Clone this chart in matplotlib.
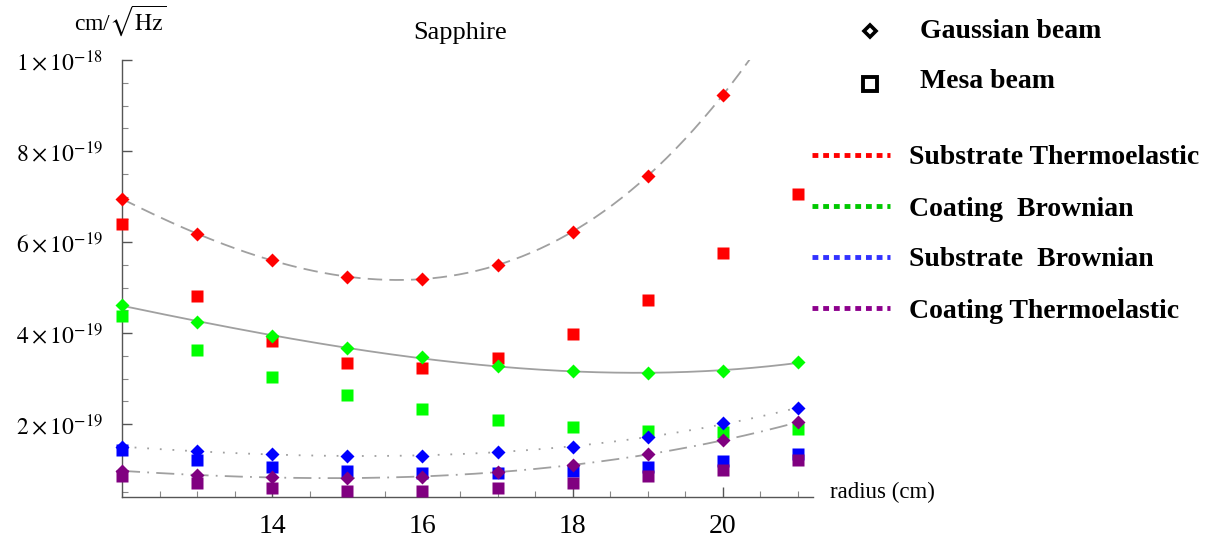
import numpy as np
import matplotlib
matplotlib.use("Agg")
import matplotlib.pyplot as plt
from matplotlib.ticker import MultipleLocator, FixedLocator

plt.rcParams['font.family'] = ['Liberation Serif', 'DejaVu Serif']
plt.rcParams['mathtext.fontset'] = 'stix'

radius = [12, 13, 14, 15, 16, 17, 18, 19, 20, 21]
# values in units of 1e-19 cm/sqrt(Hz)
gauss_sub_te = [6.95, 6.18, 5.60, 5.24, 5.19, 5.49, 6.23, 7.46, 9.23]
mesa_sub_te = [6.40, 4.82, 3.82, 3.35, 3.23, 3.46, 3.98, 4.73, 5.76, 7.05]
gauss_coat_br = [4.62, 4.24, 3.94, 3.68, 3.47, 3.27, 3.16, 3.12, 3.17, 3.36]
mesa_coat_br = [4.38, 3.63, 3.04, 2.64, 2.33, 2.09, 1.94, 1.85, 1.83, 1.89]
gauss_sub_br = [1.50, 1.41, 1.34, 1.30, 1.31, 1.39, 1.50, 1.72, 2.02, 2.35]
mesa_sub_br = [1.43, 1.21, 1.05, 0.97, 0.92, 0.92, 0.97, 1.05, 1.19, 1.34]
gauss_coat_te = [0.97, 0.89, 0.83, 0.82, 0.84, 0.95, 1.10, 1.34, 1.65, 2.04]
mesa_coat_te = [0.86, 0.70, 0.59, 0.53, 0.53, 0.59, 0.70, 0.86, 1.00, 1.21]

y_ticks = [2, 4, 6, 8, 10]
y_ticklabels = [r"$2\times10^{-19}$", r"$4\times10^{-19}$", r"$6\times10^{-19}$",
                r"$8\times10^{-19}$", r"$1\times10^{-18}$"]
x_ticks = [14, 16, 18, 20]

legend_labels = ["Substrate Thermoelastic", "Coating  Brownian",
                 "Substrate  Brownian", "Coating Thermoelastic"]
legend_colors = ["#ff0000", "#00c800", "#3232ff", "#8c008c"]

colors = ["#ff0000", "#00ff00", "#0000ff", "#800080"]
gauss = [gauss_sub_te, gauss_coat_br, gauss_sub_br, gauss_coat_te]
mesa = [mesa_sub_te, mesa_coat_br, mesa_sub_br, mesa_coat_te]
fit_styles = [(0, (8, 4)), '-', (0, (1, 6)), (0, (10, 4, 1, 4))]
fit_deg = [3, 3, 3, 3]

fig = plt.figure(figsize=(12.17, 5.41), dpi=100)
ax = fig.add_axes([122/1217, 1-497/541, 691/1217, 437/541])
ax.set_xlim(12, 21.2)
ax.set_ylim(0.4, 10)

xs = np.linspace(12, 21, 300)
for g, ls, d in zip(gauss, fit_styles, fit_deg):
    xr = np.array(radius[:len(g)], dtype=float)
    p = np.polyfit(xr, np.array(g), d)
    ax.plot(xs, np.polyval(p, xs), color='#a0a0a0', lw=1.3, linestyle=ls, zorder=1)

for m, c in zip(mesa, colors):
    ax.plot(radius[:len(m)], m, 's', color=c, ms=9, mec='none', clip_on=False, zorder=3)
for g, c in zip(gauss, colors):
    ax.plot(radius[:len(g)], g, 'D', color=c, ms=7.5, mec='none', clip_on=False, zorder=4)

for s in ['top', 'right']:
    ax.spines[s].set_visible(False)
for s in ['left', 'bottom']:
    ax.spines[s].set_color('#555555')
    ax.spines[s].set_linewidth(1.0)

ax.yaxis.set_major_locator(FixedLocator(y_ticks))
ax.set_yticklabels(y_ticklabels)
ax.yaxis.set_minor_locator(MultipleLocator(0.5))
ax.xaxis.set_major_locator(FixedLocator(x_ticks))
ax.set_xticklabels([str(v) for v in x_ticks])
ax.xaxis.set_minor_locator(MultipleLocator(0.5))
ax.tick_params(axis='both', which='major', direction='in', length=7, color='#555555', width=1)
ax.tick_params(axis='both', which='minor', direction='in', length=4, color='#888888', width=0.8)
ax.tick_params(axis='y', labelsize=17, pad=14)
ax.tick_params(axis='x', labelsize=20, pad=12)

fig.text(460/1217, 1-33/541, "Sapphire", fontsize=19, ha='center', va='center')
fig.text(120/1217, 1-21/541, r"cm/$\sqrt{\mathrm{Hz}}$", fontsize=17, ha='center', va='center')
fig.text(830/1217, 1-492/541, "radius (cm)", fontsize=16.5, ha='left', va='center')

# legend
fig.lines.append(plt.Line2D([870/1217], [1-31/541], marker='D', ms=6.5, mfc='white', mec='black',
                            mew=2.6, transform=fig.transFigure, figure=fig))
fig.lines.append(plt.Line2D([870/1217], [1-84/541], marker='s', ms=9.5, mfc='white', mec='black',
                            mew=2.8, transform=fig.transFigure, figure=fig))
fig.text(920/1217, 1-31/541, "Gaussian beam", fontsize=20, fontweight='bold', ha='left', va='center')
fig.text(920/1217, 1-82/541, "Mesa beam", fontsize=20, fontweight='bold', ha='left', va='center')
for i, (lab, c) in enumerate(zip(legend_labels, legend_colors)):
    yy = 1 - (155 + 51*i)/541
    fig.lines.append(plt.Line2D([812/1217, 890/1217], [yy, yy], color=c, lw=3.5,
                                linestyle=(0, (1.2, 1.0)), transform=fig.transFigure, figure=fig))
    fig.text(909/1217, 1-(158 + 51*i)/541, lab, fontsize=20, fontweight='bold', ha='left', va='center')

fig.savefig("out.png", dpi=100)
